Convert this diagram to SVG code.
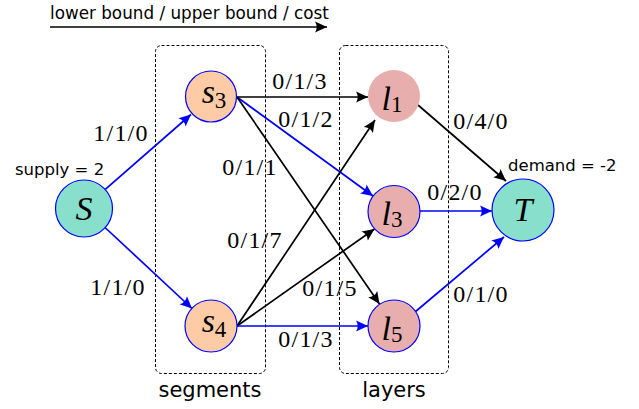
<svg xmlns="http://www.w3.org/2000/svg" width="639" height="409" viewBox="0 0 639 409">
<style>
.sans{font-family:"DejaVu Sans",sans-serif;fill:#000}
.lbl{font-family:"Liberation Serif","Times New Roman",serif;font-size:24px;letter-spacing:1.2px;text-anchor:middle;fill:#000}
.math{font-family:"Liberation Serif","Times New Roman",serif;font-style:italic;font-size:34px;text-anchor:middle;fill:#000}
.sub{font-style:normal;font-size:23px}
.e{fill:none;stroke-width:1.7}
.blk{stroke:#000;marker-end:url(#ab)}
.blu{stroke:#0000ff;marker-end:url(#au)}
.box{fill:none;stroke:#000;stroke-width:1;stroke-dasharray:3 2}
.st{fill:#88dfcc;stroke:#0000ff;stroke-width:1.2}
.sg{fill:#fdcca6;stroke:#0000ff;stroke-width:1.2}
.ly{fill:#e8aeae}
.lyb{fill:#e8aeae;stroke:#0000ff;stroke-width:1.2}
</style>
<defs>
<marker id="ab" markerUnits="userSpaceOnUse" markerWidth="16" markerHeight="14" viewBox="-13 -7 14 14" refX="0" refY="0" orient="auto"><path d="M0,0 L-12,-5.5 Q-8.5,0 -12,5.5 Z" fill="#000"/></marker>
<marker id="au" markerUnits="userSpaceOnUse" markerWidth="16" markerHeight="14" viewBox="-13 -7 14 14" refX="0" refY="0" orient="auto"><path d="M0,0 L-12,-5.5 Q-8.5,0 -12,5.5 Z" fill="#0000ff"/></marker>
</defs>
<rect width="639" height="409" fill="#fff"/>
<g id="legend">
<text class="sans" x="50" y="19" font-size="16.8">lower bound / upper bound / cost</text>
<line class="e blk" x1="50" y1="27" x2="327" y2="27"/>
</g>
<g id="segments-box">
<rect class="box" x="155.5" y="45.5" width="110" height="328" rx="6"/>
<text class="sans" x="210" y="397" font-size="21" text-anchor="middle">segments</text>
</g>
<g id="layers-box">
<rect class="box" x="339.5" y="45.5" width="109" height="328" rx="6"/>
<text class="sans" x="394" y="397" font-size="21" text-anchor="middle">layers</text>
</g>
<g id="connectors">
<line class="e blu" x1="105" y1="189.6" x2="191" y2="114.5"/>
<line class="e blu" x1="104.5" y1="227" x2="192" y2="308.5"/>
<line class="e blk" x1="237" y1="97" x2="368" y2="97"/>
<line class="e blu" x1="237" y1="97" x2="373" y2="196"/>
<line class="e blk" x1="237" y1="97" x2="379.5" y2="304"/>
<line class="e blk" x1="237" y1="326" x2="375" y2="120"/>
<line class="e blk" x1="237" y1="326" x2="374.5" y2="229"/>
<line class="e blu" x1="237" y1="326" x2="368" y2="326"/>
<line class="e blk" x1="418" y1="105" x2="506" y2="181"/>
<line class="e blu" x1="420" y1="211" x2="492" y2="211"/>
<line class="e blu" x1="415" y1="312" x2="504" y2="237"/>
<text class="lbl" x="121" y="141">1/1/0</text>
<text class="lbl" x="118" y="295">1/1/0</text>
<text class="lbl" x="300" y="89">0/1/3</text>
<text class="lbl" x="306" y="127">0/1/2</text>
<text class="lbl" x="250" y="175">0/1/1</text>
<text class="lbl" x="255" y="248">0/1/7</text>
<text class="lbl" x="330" y="296">0/1/5</text>
<text class="lbl" x="306" y="347">0/1/3</text>
<text class="lbl" x="481" y="129">0/4/0</text>
<text class="lbl" x="455" y="200">0/2/0</text>
<text class="lbl" x="481" y="302">0/1/0</text>
</g>
<g id="S">
<circle class="st" cx="84" cy="208.5" r="28.5"/>
<text class="math" x="84" y="220">S</text>
<text class="sans" x="15" y="175" font-size="16.5">supply = 2</text>
</g>
<g id="s3">
<circle class="sg" cx="211" cy="96.5" r="25.5"/>
<text class="math" x="214" y="103">s<tspan class="sub" dy="5">3</tspan></text>
</g>
<g id="s4">
<circle class="sg" cx="211" cy="326" r="26"/>
<text class="math" x="214" y="332">s<tspan class="sub" dy="5">4</tspan></text>
</g>
<g id="l1">
<circle class="ly" cx="394" cy="96" r="26"/>
<text class="math" x="392" y="110">l<tspan class="sub" dy="2">1</tspan></text>
</g>
<g id="l3">
<circle class="lyb" cx="394" cy="211.5" r="26"/>
<text class="math" x="392" y="225">l<tspan class="sub" dy="2">3</tspan></text>
</g>
<g id="l5">
<circle class="lyb" cx="394" cy="326" r="26"/>
<text class="math" x="392" y="340">l<tspan class="sub" dy="2">5</tspan></text>
</g>
<g id="T">
<circle class="st" cx="523" cy="210" r="31"/>
<text class="math" x="523" y="221">T</text>
<text class="sans" x="508" y="171" font-size="16.5">demand = -2</text>
</g>
</svg>
